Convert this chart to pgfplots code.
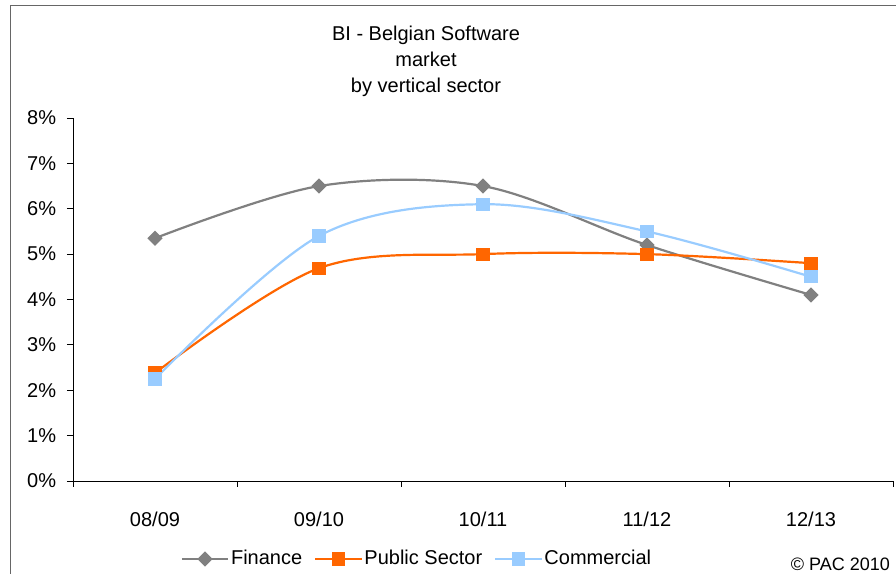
\documentclass[border=0pt]{standalone}
\usepackage{pgfplots}
\pgfplotsset{compat=1.18}
\usepackage{fontspec}
\setmainfont{Liberation Sans}
\definecolor{fin}{RGB}{128,128,128}
\definecolor{pub}{RGB}{255,102,0}
\definecolor{com}{RGB}{153,204,255}
\begin{document}
\fontsize{20bp}{25bp}\selectfont
\begin{tikzpicture}[x=1bp,y=1bp]
\useasboundingbox (-73,-93) rectangle (823,481);
\draw[color=fin!80!black, line width=1bp] (-62,-100) -- (-62,475) -- (830,475);
\begin{axis}[
  at={(0,0)}, anchor=south west,
  scale only axis, width=820bp, height=363bp,
  xmin=-0.5, xmax=4.5, ymin=0, ymax=8,
  axis x line*=bottom, axis y line*=left,
  axis line style={line width=0.8bp, -},
  xtick={0,1,2,3,4},
  xticklabels={08/09,09/10,10/11,11/12,12/13},
  minor xtick={-0.5,0.5,1.5,2.5,3.5,4.5},
  ytick={0,1,...,8},
  yticklabel={\pgfmathprintnumber{\tick}\%},
  tick align=outside,
  major x tick style={draw=none},
  minor tick length=6bp, major tick length=6bp,
  tick style={black, line width=0.8bp},
  /pgf/number format/assume math mode=true,
  ticklabel style={font=\fontsize{20bp}{24bp}\selectfont},
  xticklabel style={yshift=-18bp},
  yticklabel style={xshift=-4bp},
  legend style={at={(344bp,-78bp)}, anchor=center, draw=none, fill=none,
    font=\fontsize{20bp}{24bp}\selectfont, legend columns=3,
    /tikz/every even column/.append style={column sep=10bp}},
  legend cell align=left,
  legend image code/.code={\draw[mark repeat=2,mark phase=2,#1] plot coordinates {(0bp,0bp)(23bp,0bp)(46bp,0bp)};},
  clip=false,
]
\addplot[color=fin, line width=2.2bp, smooth, tension=0.55, mark=square*, mark size=4.3bp, mark options={solid, fill=fin, rotate=45}]
  coordinates {(0,5.35) (1,6.5) (2,6.5) (3,5.2) (4,4.1)};
\addlegendentry{Finance}
\addplot[color=pub, line width=2.2bp, smooth, tension=0.55, mark=square*, mark size=5.5bp, mark options={solid, fill=pub}]
  coordinates {(0,2.38) (1,4.69) (2,5.0) (3,5.0) (4,4.8)};
\addlegendentry{Public Sector}
\addplot[color=com, line width=2.2bp, smooth, tension=0.55, mark=square*, mark size=5.5bp, mark options={solid, fill=com}]
  coordinates {(0,2.25) (1,5.4) (2,6.1) (3,5.5) (4,4.5)};
\addlegendentry{Commercial}
\end{axis}
\node[align=center, font=\fontsize{20bp}{26bp}\selectfont] at (353,420) {BI - Belgian Software\\market\\by vertical sector};
\node[anchor=east, inner sep=0pt, font=\fontsize{18bp}{22bp}\selectfont] at (817,-83) {\textcopyright{} PAC 2010};
\end{tikzpicture}
\end{document}
